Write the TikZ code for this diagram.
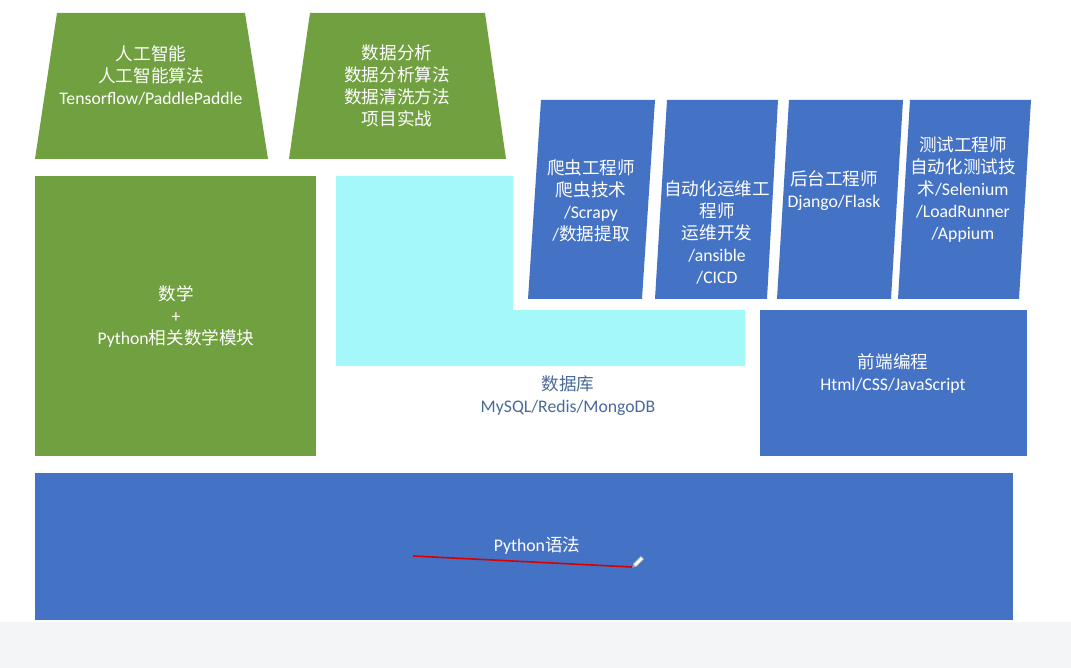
\documentclass[tikz,border=0pt]{standalone}
\usepackage{fontspec}
\setmainfont{Carlito}
\newfontfamily\cjkf{Noto Sans CJK SC}
\newcommand{\zh}[1]{{\cjkf\fontsize{17.6}{22}\selectfont #1}}
\definecolor{grn}{HTML}{70A040}
\definecolor{blu}{HTML}{4472C4}
\definecolor{cyn}{HTML}{A5F8FA}
\definecolor{dbtxt}{HTML}{4A6A9A}
\definecolor{band}{HTML}{F4F5F7}
\begin{document}
\begin{tikzpicture}[x=1pt,y=-1pt,
  lbl/.style={align=center,text=white,font=\fontsize{17.7}{22}\selectfont,inner sep=0pt}]
\useasboundingbox (0,0) rectangle (1071,668);
\fill[white] (0,0) rectangle (1071,668);
\fill[band] (0,622) rectangle (1071,668);
% green trapezoids
\fill[grn] (57,13) -- (245,13) -- (268,159) -- (35,159) -- cycle;
\fill[grn] (310,13) -- (485,13) -- (506,159) -- (289,159) -- cycle;
% math box
\fill[grn] (35,176) rectangle (316,456);
% cyan L-shape
\fill[cyn] (336,176) -- (513,176) -- (513,310) -- (745,310) -- (745,366) -- (336,366) -- cycle;
% blue parallelograms
\fill[blu] (541,100) -- (655,100) -- (642,299) -- (528,299) -- cycle;
\fill[blu] (667,100) -- (778,100) -- (767,299) -- (655,299) -- cycle;
\fill[blu] (789,100) -- (903,100) -- (891,299) -- (777,299) -- cycle;
\fill[blu] (910,100) -- (1031,100) -- (1019,299) -- (898,299) -- cycle;
% frontend
\fill[blu] (760,310) rectangle (1027,456);
% python
\fill[blu] (35,473) rectangle (1013,620);
% texts
\node[lbl] (ai) at (151,75) {\zh{人工智能}\\\zh{人工智能算法}\\Tensorflow/PaddlePaddle};
\node[lbl] (da) at (397,86) {\zh{数据分析}\\\zh{数据分析算法}\\\zh{数据清洗方法}\\\zh{项目实战}};
\node[lbl] (math) at (176,316) {\zh{数学}\\+\\Python\zh{相关数学模块}};
\node[lbl,text=dbtxt] (db) at (568,396) {\zh{数据库}\\MySQL/Redis/MongoDB};
\node[lbl] (b1) at (591,201) {\zh{爬虫工程师}\\\zh{爬虫技术}\\/Scrapy\\/\zh{数据提取}};
\node[lbl] (b2) at (717,232) {\zh{自动化运维工}\\\zh{程师}\\\zh{运维开发}\\/ansible\\/CICD};
\node[lbl] (b3) at (834,191) {\zh{后台工程师}\\Django/Flask};
\node[lbl] (b4) at (963,190) {\zh{测试工程师}\\\zh{自动化测试技}\\\zh{术}/Selenium\\/LoadRunner\\/Appium};
\node[lbl] (fe) at (893,373) {\zh{前端编程}\\Html/CSS/JavaScript};
\node[lbl] (py) at (537,546) {Python\zh{语法}};
% red stroke and pen icon
\coordinate (r1) at (413,556);
\coordinate (r2) at (632,567);
\draw[red!85!black,line width=1.6pt] (r1) -- (r2);
\begin{scope}[shift={(638,562)},rotate=-45]
\fill[white,draw=gray!60,line width=0.5pt] (-1.8,-6) rectangle (1.8,5);
\fill[gray!70] (-1.8,5) -- (1.8,5) -- (0,8) -- cycle;
\end{scope}
\end{tikzpicture}
\end{document}
